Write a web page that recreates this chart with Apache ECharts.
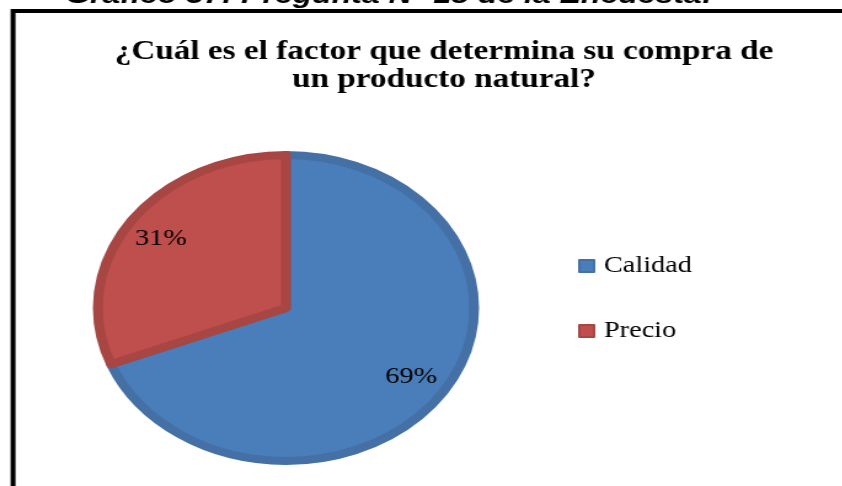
<!DOCTYPE html>
<html>
<head>
<meta charset="utf-8">
<script src="https://cdn.jsdelivr.net/npm/echarts@6/dist/echarts.min.js"></script>
<style>
body{margin:0;overflow:hidden;background:#fff;}
/* la imagen original esta estirada en horizontal */
#chart{width:685px;height:486px;transform:scaleX(1.23);transform-origin:0 0;}
</style>
</head>
<body>
<div id="chart"></div>
<script>
var factores = ['Calidad', 'Precio'];
var porcentajes = [69, 31];
var colores = ['#4A7EBB', '#BE4F4C'];
var bordes = ['#4470A6', '#A84644'];

var serif = 'Liberation Serif';

var datos = [];
for (var i = 0; i < factores.length; i++) {
    datos.push({
        name: factores[i],
        value: porcentajes[i],
        itemStyle: {color: colores[i], borderColor: bordes[i]}
    });
}

var myChart = echarts.init(document.getElementById('chart'));

var option = {
    animation: false,
    graphic: [
        {
            type: 'text',
            left: 53,
            top: -17,
            style: {
                text: 'Gráfico 37: Pregunta N° 18 de la Encuesta:',
                font: 'italic bold 26px Liberation Sans',
                fill: '#000'
            }
        },
        {
            type: 'rect',
            shape: {x: 10.6, y: 11, width: 1000, height: 1000},
            style: {fill: 'none', stroke: '#000', lineWidth: 4}
        },
        {
            type: 'text',
            x: 361,
            y: 38,
            style: {
                text: '¿Cuál es el factor que determina su compra de\nun producto natural?',
                font: 'bold 27px ' + serif,
                lineHeight: 28,
                align: 'center',
                verticalAlign: 'top',
                fill: '#000'
            }
        }
    ],
    legend: {
        orient: 'vertical',
        left: 465,
        top: 249,
        itemWidth: 12,
        itemHeight: 12,
        itemGap: 41,
        icon: 'rect',
        data: factores,
        textStyle: {
            fontFamily: serif,
            fontSize: 23,
            lineHeight: 24,
            color: '#000',
            padding: [0, 0, 0, 3]
        }
    },
    series: [
        {
            name: 'Factor',
            type: 'pie',
            center: [232.5, 308],
            radius: [0, 153],
            startAngle: 90,
            clockwise: true,
            silent: true,
            itemStyle: {borderWidth: 8},
            label: {show: false},
            labelLine: {show: false},
            data: datos
        },
        {
            // solo para poner las etiquetas mas afuera
            name: 'Etiquetas',
            type: 'pie',
            center: [232.5, 308],
            radius: [90, 150],
            startAngle: 90,
            clockwise: true,
            silent: true,
            itemStyle: {color: 'rgba(0,0,0,0)', borderWidth: 0},
            label: {
                show: true,
                position: 'inside',
                formatter: '{c}%',
                fontFamily: serif,
                fontSize: 23,
                color: '#000'
            },
            labelLine: {show: false},
            data: factores.map(function(f, i){ return {name: f, value: porcentajes[i]}; })
        }
    ]
};

myChart.setOption(option);
</script>
</body>
</html>
